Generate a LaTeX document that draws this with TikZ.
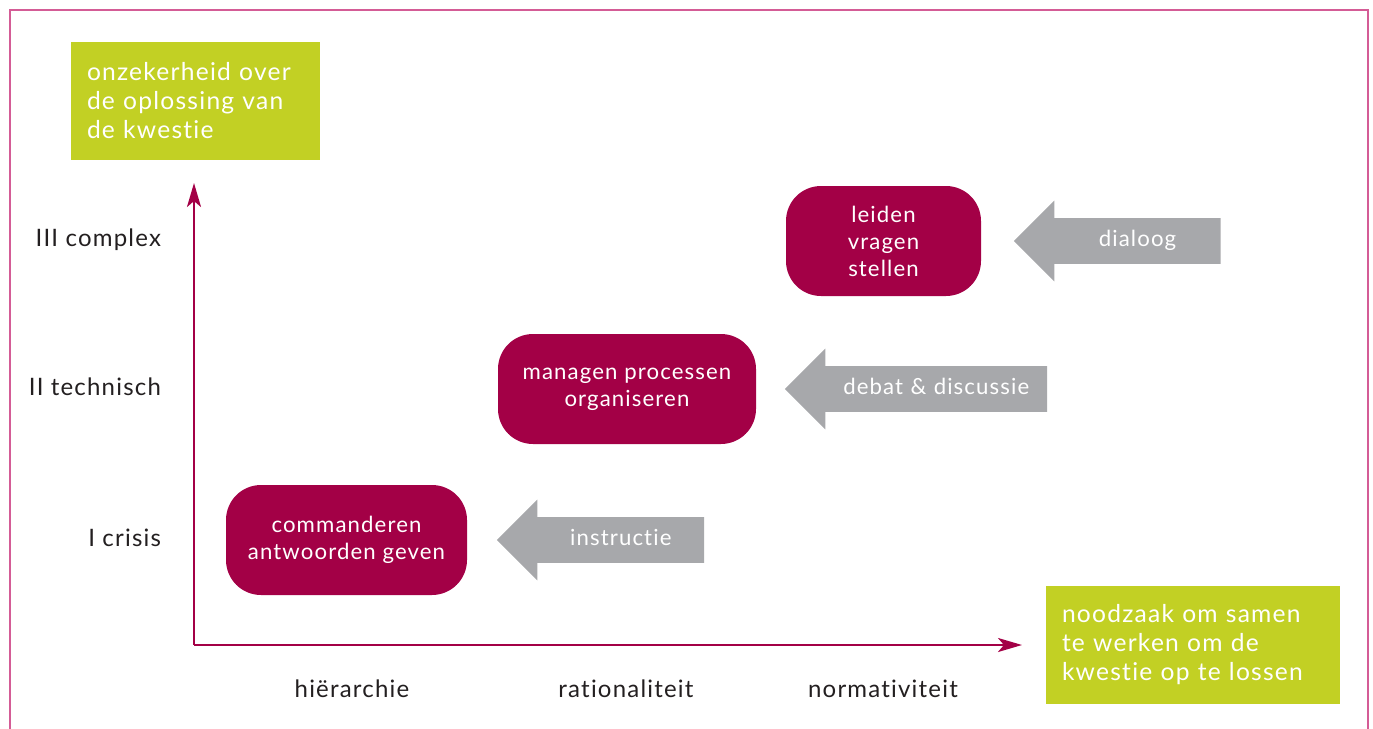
\documentclass[tikz,border=0pt]{standalone}
\usepackage{fontspec}
\setmainfont{Lato}[LetterSpace=5,Ligatures=NoCommon]
\usepackage{tikz}
\usetikzlibrary{positioning}
\usetikzlibrary{shapes.arrows, arrows.meta}
\definecolor{mygroen}{RGB}{194,208,36}
\definecolor{myrood}{RGB}{163,0,70}
\definecolor{mygrijs}{RGB}{167,168,171}
\definecolor{mykader}{RGB}{212,92,150}
\definecolor{mytekst}{RGB}{35,31,32}
\tikzstyle{vraag} = [rectangle, fill=mygroen, text=white, align=left, text width=108.5pt, inner xsep=8pt, minimum height=59pt, font=\fontsize{12.3}{14.5}\selectfont]
\tikzstyle{stijl} = [rectangle, rounded corners=17.5pt, fill=myrood, text=white, align=center, minimum height=55pt, font=\fontsize{11.1}{13.5}\selectfont]
% de kop loopt 8.75pt over het tekstvak heen, dus tekst iets naar rechts
\tikzstyle{middel} = [single arrow, shape border rotate=180, fill=mygrijs, text=white, single arrow head extend=8.75pt, minimum width=40pt, inner xsep=0pt, inner ysep=6pt, text height=8pt, text depth=2.5pt, align=center, execute at begin node=\hspace*{8.75pt}, font=\fontsize{11.1}{13}\selectfont]
\tikzstyle{niveau} = [text=mytekst, anchor=east, font=\fontsize{12}{14}\selectfont]
\tikzstyle{soort} = [text=mytekst, font=\fontsize{12}{14}\selectfont]
\tikzstyle{as} = [line width=1.25pt, -{Stealth[length=12pt,width=7pt,inset=3pt]}, myrood]
\tikzstyle{kader} = [line width=0.8pt, mykader]

\begin{document}
\begin{tikzpicture}[x=0.5pt,y=-0.5pt,node distance=14.5pt]
	\useasboundingbox (0,0) rectangle (1373,729);
	\draw [kader] (10,729) -- (10,10) -- (1368,10) -- (1368,729);
	% assen
	\coordinate (o) at (194,645);
	\coordinate (ytop) at (194,183);
	\coordinate (xend) at (1022,645);
	\draw [as] (o) -- (ytop);
	\draw [as] (o) -- (xend);
	\node (onzeker)[vraag] at (195.5,101) {onzekerheid over\\de oplossing van\\de kwestie};
	\node (noodzaak)[vraag, text width=131pt] at (1193,644.5) {noodzaak om samen\\te werken om de\\kwestie op te lossen};
	% leiderschapsstijlen
	\node (leiden)[stijl, minimum width=97.5pt] at (883.5,241) {leiden\\vragen\\stellen};
	\node (managen)[stijl, minimum width=129pt] at (627,389) {managen processen\\organiseren};
	\node (commanderen)[stijl, minimum width=120.5pt] at (346.5,540) {commanderen\\antwoorden geven};
	\node (dialoog)[middel, text width=91.5pt, right=16pt of leiden]{dialoog};
	\node (debat)[middel, text width=119.25pt, right=14pt of managen]{debat \& discussie};
	\node (instructie)[middel, text width=91.75pt, right=14.5pt of commanderen]{instructie};
	% niveaus en soorten
	\node (complex)[niveau] at (168,240) {III complex};
	\node (technisch)[niveau] at (168,387) {II technisch};
	\node (crisis)[niveau] at (168,538) {I crisis};
	\node (hierarchie)[soort] at (352,689) {hiërarchie};
	\node (rationaliteit)[soort] at (626,689) {rationaliteit};
	\node (normativiteit)[soort] at (883,689) {normativiteit};
\end{tikzpicture}
\end{document}
